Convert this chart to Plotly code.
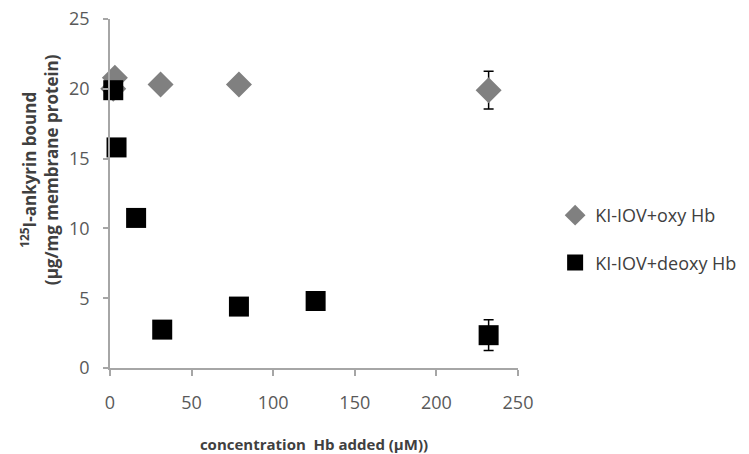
import plotly.graph_objects as go

# Data
oxy_x = [2, 3, 31, 79, 232]
oxy_y = [20.0, 20.8, 20.3, 20.3, 19.9]
oxy_err = [0, 0, 0, 0, 1.35]

deoxy_x = [2, 4, 16, 32, 79, 126, 232]
deoxy_y = [19.9, 15.8, 10.75, 2.75, 4.4, 4.8, 2.35]
deoxy_err = [0, 0, 0, 0, 0, 0, 1.1]

x_ticks = [0, 50, 100, 150, 200, 250]
y_ticks = [0, 5, 10, 15, 20, 25]

FONT = "Open Sans"
TICK_COLOR = "#595959"
TITLE_COLOR = "#404040"
AXIS_COLOR = "#a6a6a6"

fig = go.Figure()
fig.add_trace(go.Scatter(
    x=oxy_x, y=oxy_y, mode="markers", name="KI-IOV+oxy Hb",
    legendgroup="a",
    marker=dict(symbol="diamond", size=20, color="#808080"),
    error_y=dict(type="data", array=oxy_err, color="#000000", thickness=1.5, width=5),
    cliponaxis=False,
))
fig.add_trace(go.Scatter(
    x=deoxy_x, y=deoxy_y, mode="markers", name="KI-IOV+deoxy Hb",
    legendgroup="b",
    marker=dict(symbol="square", size=20, color="#000000"),
    error_y=dict(type="data", array=deoxy_err, color="#000000", thickness=1.5, width=5),
    cliponaxis=False,
))

fig.update_layout(
    width=741, height=446,
    margin=dict(l=102, r=231, t=11, b=86, autoexpand=False),
    paper_bgcolor="white", plot_bgcolor="white",
    font=dict(family=FONT, color=TICK_COLOR),
    showlegend=True,
    legend=dict(
        x=1.091, y=0.49, xanchor="left", yanchor="top",
        traceorder="grouped", tracegroupgap=21,
        font=dict(size=18, color=TITLE_COLOR, family=FONT),
        itemwidth=30, bgcolor="rgba(0,0,0,0)",
    ),
    xaxis=dict(
        range=[0, 250], tickvals=x_ticks, ticktext=[str(v) for v in x_ticks],
        showline=True, linecolor=AXIS_COLOR, linewidth=1.5,
        ticks="outside", ticklen=6, tickcolor=AXIS_COLOR, tickwidth=1.5,
        showgrid=False, zeroline=False,
        tickfont=dict(size=18, color=TICK_COLOR, family=FONT),
        ticklabelstandoff=12, ticklabeloverflow="allow",
        title=dict(text="<b>concentration  Hb added (µM))</b>",
                   font=dict(size=15, color=TITLE_COLOR, family=FONT), standoff=30),
    ),
    yaxis=dict(
        range=[0, 25], tickvals=y_ticks, ticktext=[str(v) for v in y_ticks],
        showline=True, linecolor=AXIS_COLOR, linewidth=1.5,
        ticks="outside", ticklen=5, tickcolor=AXIS_COLOR, tickwidth=1.5,
        showgrid=False, zeroline=False,
        tickfont=dict(size=18, color=TICK_COLOR, family=FONT),
        ticklabelstandoff=10, ticklabeloverflow="allow",
    ),
    annotations=[dict(
        text="<b><sup>125</sup>I-ankyrin bound<br>(µg/mg membrane protein)</b>",
        xref="paper", yref="paper", x=-0.174, y=0.567,
        xanchor="center", yanchor="middle", textangle=-90, showarrow=False,
        font=dict(size=17, color=TITLE_COLOR, family=FONT),
    )],
)

fig.write_html("out.html")
